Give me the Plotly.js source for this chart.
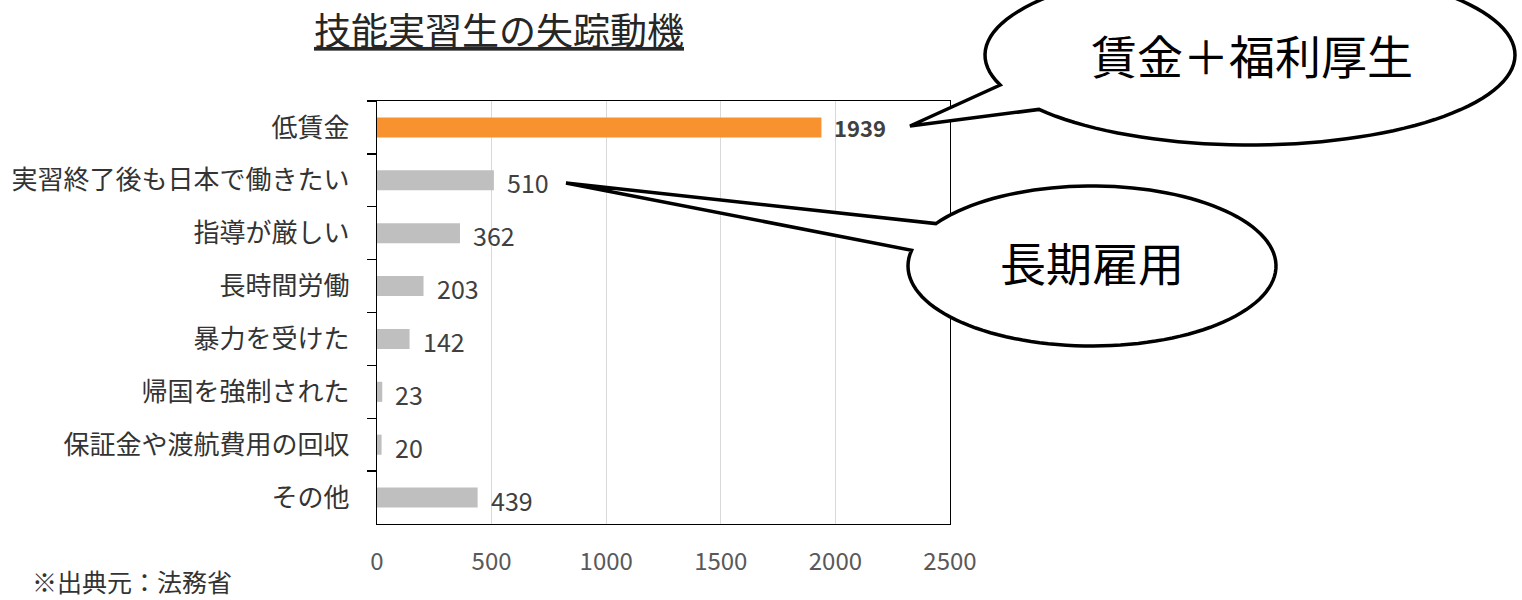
<!DOCTYPE html>
<html>
<head>
<meta charset="utf-8">
<script src="https://cdn.plot.ly/plotly-3.0.1.min.js"></script>
<style>html,body{margin:0;padding:0;background:#fff;}#chart{width:1522px;height:600px;}</style>
</head>
<body>
<div id="chart"></div>
<script>
// ---- data ----
const categories = ["低賃金","実習終了後も日本で働きたい","指導が厳しい","長時間労働","暴力を受けた","帰国を強制された","保証金や渡航費用の回収","その他"];
const counts = [1939, 510, 362, 203, 142, 23, 20, 439];
const highlight = [true, false, false, false, false, false, false, false];
const xTicks = [0, 500, 1000, 1500, 2000, 2500];
const titleText = "技能実習生の失踪動機";
const sourceText = "※出典元：法務省";
const bubble1Text = "賃金＋福利厚生";
const bubble2Text = "長期雇用";

// ---- layout geometry (pixels) ----
const W = 1522, H = 600;
const PL = 377, PR = 950, PT = 101, PB = 524;
const px2x = p => (p - PL) / (PR - PL);
const py2y = p => (PB - p) / (PB - PT);

function bubblePath(cx, cy, rx, ry, t1, t2, tip) {
  const pts = [];
  const n = 120;
  for (let i = 0; i <= n; i++) {
    const t = (t1 + (t2 - t1) * i / n) * Math.PI / 180;
    pts.push([cx + rx * Math.cos(t), cy + ry * Math.sin(t)]);
  }
  pts.push(tip);
  return "M" + pts.map(p => px2x(p[0]).toFixed(5) + "," + py2y(p[1]).toFixed(5)).join(" L") + " Z";
}

const FONT = '"Noto Sans CJK JP", "Noto Sans", sans-serif';

const trace = {
  type: "bar",
  orientation: "h",
  y: categories,
  x: counts,
  width: 0.38,
  marker: { color: highlight.map(h => h ? "#F7922F" : "#BFBFBF") },
  hoverinfo: "none"
};

const annotations = categories.map((c, i) => ({
  x: counts[i], y: c, xref: "x", yref: "y",
  text: highlight[i] ? "<b>" + counts[i] + "</b>" : String(counts[i]),
  showarrow: false, xanchor: "left", yanchor: "middle", xshift: 11, yshift: highlight[i] ? 0 : -2,
  font: { family: FONT, size: highlight[i] ? 22 : 25, color: "#404040" }
}));

annotations.push({
  xref: "paper", yref: "paper", x: px2x(30), y: py2y(581), xanchor: "left", yanchor: "middle",
  text: sourceText, showarrow: false,
  font: { family: FONT, size: 25, color: "#333333" }
});
annotations.push({
  xref: "paper", yref: "paper", x: px2x(1252), y: py2y(54), xanchor: "center", yanchor: "middle",
  text: bubble1Text, showarrow: false,
  font: { family: FONT, size: 46, color: "#000000" }
});
annotations.push({
  xref: "paper", yref: "paper", x: px2x(1092), y: py2y(261), xanchor: "center", yanchor: "middle",
  text: bubble2Text, showarrow: false,
  font: { family: FONT, size: 46, color: "#000000" }
});

const shapes = [
  {
    type: "path", xref: "paper", yref: "paper", layer: "above",
    path: bubblePath(1250, 55, 265, 90, 160.5, 502.8, [910, 126]),
    fillcolor: "#ffffff", line: { color: "#000000", width: 3.5 }
  },
  {
    type: "path", xref: "paper", yref: "paper", layer: "above",
    path: bubblePath(1092, 266, 184, 80, 212, 551.4, [566, 183]),
    fillcolor: "#ffffff", line: { color: "#000000", width: 3.5 }
  }
];

const layout = {
  width: W, height: H,
  margin: { l: PL, r: W - PR, t: PT, b: H - PB, pad: 0 },
  paper_bgcolor: "#ffffff", plot_bgcolor: "#ffffff",
  showlegend: false,
  font: { family: FONT },
  title: {
    text: "<u>" + titleText + "</u>",
    xref: "container", yref: "container",
    x: 499 / W, y: 1 - 32 / H, xanchor: "center", yanchor: "middle",
    font: { family: FONT, size: 37, color: "#262626" }
  },
  xaxis: {
    range: [0, 2500], tickvals: xTicks, ticktext: xTicks.map(String),
    showgrid: true, gridcolor: "#d9d9d9", gridwidth: 1,
    zeroline: false, showline: true, mirror: true, linecolor: "#000000", linewidth: 1.3,
    ticks: "", ticklabelstandoff: 16,
    tickfont: { family: FONT, size: 24, color: "#595959" },
    fixedrange: true
  },
  yaxis: {
    type: "category", autorange: "reversed",
    showgrid: false, zeroline: false, showline: true, mirror: true, linecolor: "#000000", linewidth: 1.3,
    ticks: "outside", tickson: "boundaries", ticklen: 9, tickcolor: "#000000", tickwidth: 1.3,
    ticklabelstandoff: 21,
    tickfont: { family: FONT, size: 26, color: "#333333" },
    fixedrange: true
  },
  annotations: annotations,
  shapes: shapes
};

Plotly.newPlot("chart", [trace], layout, { displayModeBar: false, staticPlot: true });
</script>
</body>
</html>
